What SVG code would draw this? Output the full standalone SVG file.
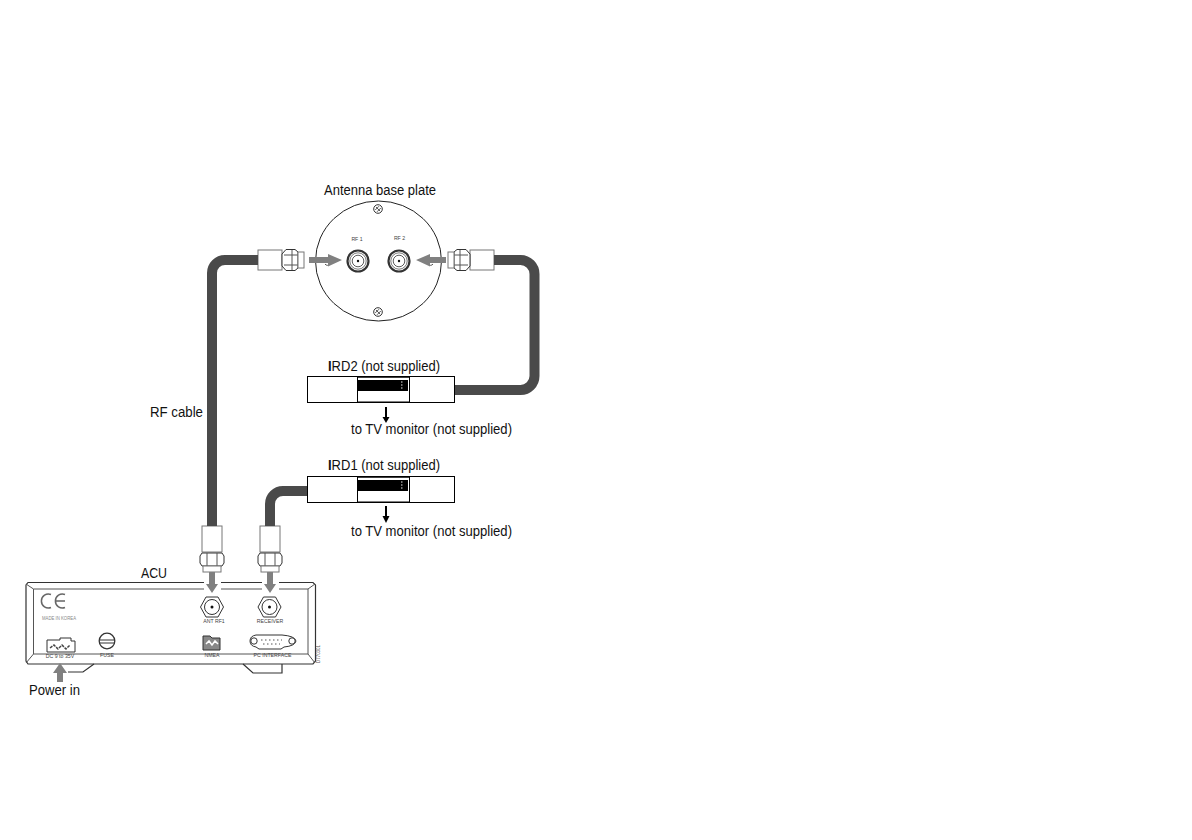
<svg xmlns="http://www.w3.org/2000/svg" width="1192" height="840" viewBox="0 0 1192 840">
<style>
text{font-family:"Liberation Sans",Arial,sans-serif;fill:#111}
.lb{font-size:14px}
.sm{font-size:5.2px;fill:#444;text-anchor:middle}
.cable{fill:none;stroke:#4a4a4a;stroke-width:10}
.ln{fill:none;stroke:#333;stroke-width:1.2}
.th{fill:none;stroke:#555;stroke-width:1}
.wh{fill:#fff;stroke:#333;stroke-width:1}
.body{fill:#fff;stroke:#777;stroke-width:1}
.ga{fill:#808080}
.bx{fill:#fff;stroke:#000;stroke-width:1}
.blk{fill:#000}
</style>
<defs>
<g id="conn-h">
<rect class="body" x="0" y="-10" width="24" height="20"/>
<path class="wh" d="M24-6L28-10.500H37L40-8V8L37 10.500H28L24 6Z"/>
<path class="th" d="M26-5H40M26 5H40M34-10V10"/>
<rect class="body" x="40" y="-8" width="6" height="16"/>
</g>
<g id="conn-v">
<rect class="body" x="-10" y="0" width="20" height="26"/>
<path class="wh" d="M-10 27H10L12 30V37L10 40H-10L-12 37V30Z"/>
<path class="th" d="M-5 27V40M5 27V40"/>
<rect class="body" x="-9" y="40" width="18" height="6"/>
</g>
<g id="jack">
<circle r="10.500" fill="#fff" stroke="#333" stroke-width="2.200"/>
<circle r="8.200" fill="none" stroke="#777" stroke-width="1"/>
<circle r="5.800" fill="none" stroke="#333" stroke-width="0.800"/>
<circle r="1.200" fill="#111"/>
</g>
<g id="hexjack">
<path class="wh" d="M-11.500 0L-6-10H6L11.500 0L6 10H-6Z"/>
<circle r="7.500" fill="#fff" stroke="#333" stroke-width="1"/>
<circle r="1.500" fill="#111"/>
</g>
<g id="screw">
<circle r="4.300" fill="#fff" stroke="#333" stroke-width="1"/>
<path d="M-2.800 1L1-2.800M-1 2.800L2.800-1M-2-2L2 2" stroke="#444" stroke-width="0.900"/>
</g>
<g id="ird">
<rect class="bx" x="307.500" y="0.500" width="147" height="26"/>
<path d="M357.500 0V27M409.500 0V27" stroke="#000" stroke-width="1"/>
<path d="M357.500 1H409.500M357.500 26.200H409.500" stroke="#000" stroke-width="1.500"/>
<rect class="blk" x="358" y="4" width="50" height="11"/>
<path d="M401 6h1.500M401 9h1.500M401 12h1.500" stroke="#999" stroke-width="1.500"/>
</g>
</defs>

<g id="base-plate">
<ellipse cx="378.500" cy="261" rx="63" ry="60" fill="#fff" stroke="#222" stroke-width="1"/>
<path d="M325 264a3 3 0 0 0 5 0M428 264a3 3 0 0 0 5 0" class="th"/>
<use href="#screw" x="378" y="209"/>
<use href="#screw" x="378" y="312"/>
<use href="#jack" x="358" y="261"/>
<use href="#jack" x="399" y="261"/>
<text class="sm" x="357" y="240.500">RF 1</text>
<text class="sm" x="399.500" y="240">RF 2</text>
<text class="lb" x="324" y="194.500" textLength="112" lengthAdjust="spacingAndGlyphs">Antenna base plate</text>
</g>
<g id="plug-rf1"><use href="#conn-h" x="258" y="260"/></g>
<g id="plug-rf2"><use href="#conn-h" transform="translate(494 260) scale(-1 1)"/></g>
<g id="plug-ant"><use href="#conn-v" x="212" y="526"/></g>
<g id="plug-receiver"><use href="#conn-v" x="270" y="526"/></g>

<g id="ird2">
<use href="#ird" y="376"/>
<text class="lb" x="328" y="371" textLength="112" lengthAdjust="spacingAndGlyphs"><tspan font-weight="bold">I</tspan>RD2 (not supplied)</text>
<text class="lb" x="351" y="434" textLength="161" lengthAdjust="spacingAndGlyphs">to TV monitor (not supplied)</text>
</g>
<g id="ird1">
<use href="#ird" y="476"/>
<text class="lb" x="328" y="470" textLength="112" lengthAdjust="spacingAndGlyphs"><tspan font-weight="bold">I</tspan>RD1 (not supplied)</text>
<text class="lb" x="351" y="536" textLength="161" lengthAdjust="spacingAndGlyphs">to TV monitor (not supplied)</text>
</g>

<text class="lb" x="150" y="417" id="rf-label" textLength="53" lengthAdjust="spacingAndGlyphs">RF cable</text>

<g id="acu">
<path class="ln" d="M28 582.500H313L315.500 585V661L313 664H28L26 661V585Z" fill="#fff"/>
<path class="th" d="M33.500 589H308V654H33.500ZM26 584L33.500 589M315 584L308 589M26 663L33.500 654M315 663L308 654"/>
<rect x="204" y="580" width="17" height="11" fill="#fff"/>
<rect x="262" y="580" width="17" height="11" fill="#fff"/>
<path class="ln" d="M68 672H83L94 664M243 664L253 673H282V664"/>
<path d="M51 594.500A7 7 0 1 0 51 607.500M65 594.500A7 7 0 1 0 65 607.500M56 601H65" fill="none" stroke="#666" stroke-width="1.500"/>
<text x="42" y="620" font-size="5" style="fill:#888" textLength="34" lengthAdjust="spacingAndGlyphs">MADE IN KOREA</text>
<path class="wh" d="M47 643V640H60V638H71V641H75V652H47Z"/>
<path d="M50 648L54 645L58 649L62 645L66 649L70 645" fill="none" stroke="#444" stroke-width="1.500" stroke-dasharray="3 1"/>
<text class="sm" x="60" y="658">DC 9 to 35V</text>
<circle cx="107" cy="641" r="7.800" fill="#fff" stroke="#333" stroke-width="1.300"/>
<path d="M100 640H114M100 643H114" stroke="#333" stroke-width="1"/>
<text class="sm" x="107" y="657">FUSE</text>
<use href="#hexjack" x="212" y="607"/>
<use href="#hexjack" x="269.500" y="607"/>
<text class="sm" x="214" y="623">ANT RF1</text>
<text class="sm" x="270" y="623">RECEIVER</text>
<path d="M203 636H210L212 638H220V650H203Z" fill="#888" stroke="#333" stroke-width="1"/>
<path d="M206 644L209 641L212 645L215 641L218 644" fill="none" stroke="#fff" stroke-width="1.500"/>
<text class="sm" x="212" y="657">NMEA</text>
<path class="wh" d="M256 635H282Q295 636 296 641Q295 646 284 647L281 649H259L256 647Q250 646 250 641Q250 636 256 635Z"/>
<circle cx="254" cy="641" r="3.200" fill="#fff" stroke="#333" stroke-width="1"/>
<circle cx="292" cy="641" r="3.200" fill="#fff" stroke="#333" stroke-width="1"/>
<path d="M261 640h21M263 644h17" stroke="#555" stroke-width="1" stroke-dasharray="1.500 2.500"/>
<text class="sm" x="272.500" y="657">PC INTERFACE</text>
<text x="0" y="0" transform="translate(320 663) rotate(-90)" font-size="5" style="fill:#555" textLength="18" lengthAdjust="spacingAndGlyphs">D770301</text>
<text class="lb" x="141" y="578" textLength="26" lengthAdjust="spacingAndGlyphs">ACU</text>
</g>
<text class="lb" x="29" y="695" id="power-label" textLength="51" lengthAdjust="spacingAndGlyphs">Power in</text>

<g id="connectors">
<path class="cable" d="M258 260H225A13 13 0 0 0 212 273V526"/>
<path class="cable" d="M270 526V504A13 13 0 0 1 283 491H307"/>
<path class="cable" d="M455 390H520.500A14 14 0 0 0 534.500 376V274A14 14 0 0 0 520.500 260H494"/>
<path class="ga" d="M309 257H328V254L342 260L328 266.500V263H309Z"/>
<path class="ga" d="M446 257H430V254L416 260L430 266.500V263H446Z"/>
<path class="ga" d="M209 572H215V584H218L212 593L206 584H209Z"/>
<path class="ga" d="M267 572H273V584H276L270 593L264 584H267Z"/>
<path class="ga" d="M57 682V673H53L60 663L67 673H63V682Z"/>
<path d="M386 407V418" stroke="#000" stroke-width="2"/>
<path d="M382.500 417H389.500L386 423Z" fill="#000"/>
<path d="M386 506V517" stroke="#000" stroke-width="2"/>
<path d="M382.500 516H389.500L386 523Z" fill="#000"/>
</g>
</svg>
